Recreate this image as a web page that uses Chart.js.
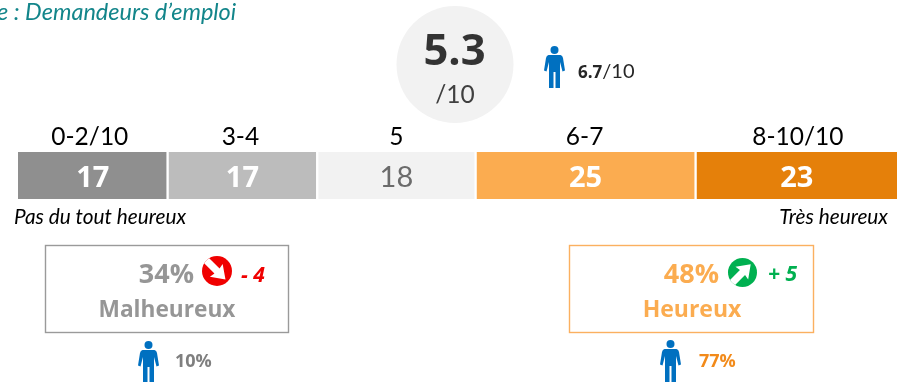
<!DOCTYPE html>
<html lang="fr"><head><meta charset="utf-8">
<style>html,body{margin:0;padding:0;background:#fff;overflow:hidden}#w{position:relative;width:897px;height:382px;overflow:hidden}</style>
<script src="https://cdn.jsdelivr.net/npm/chart.js@4"></script>
</head><body><div id="w"><canvas id="c" width="898" height="382"></canvas></div>
<script>
const categories = ['0-2/10','3-4','5','6-7','8-10/10'];
const seriesValues = [17,17,18,25,23];
const seriesColors = ['#8f8f8f','#bcbcbc','#f2f2f2','#fbac50','#e5800a'];
const valueColors = ['#ffffff','#ffffff','#6b6b6b','#ffffff','#ffffff'];
const score = '5.3', scoreUnit = '/10', refScore = '6.7';
const unhappy = {pct:'34%', label:'Malheureux', delta:'- 4', ref:'10%'};
const happy = {pct:'48%', label:'Heureux', delta:'+ 5', ref:'77%'};

const BOLD = '"Open Sans"', REG = 'Lato';
function text(ctx, s, x, y, font, color, align){
  ctx.font = font; ctx.fillStyle = color; ctx.textAlign = align || 'center';
  ctx.textBaseline = 'alphabetic'; ctx.fillText(s, x, y);
}
function person(ctx, cx, top, h){
  const s = h/42;
  ctx.save(); ctx.translate(cx, top); ctx.scale(s, s);
  ctx.fillStyle = '#0070c0';
  ctx.beginPath(); ctx.arc(0, 4, 4, 0, 2*Math.PI); ctx.fill();
  ctx.beginPath();
  ctx.moveTo(-6, 9); ctx.lineTo(6, 9);
  ctx.quadraticCurveTo(8, 9.5, 8.5, 12);
  ctx.lineTo(10.5, 24.5); ctx.lineTo(8, 25.5); ctx.lineTo(5.5, 16);
  ctx.lineTo(5.5, 42); ctx.lineTo(1, 42); ctx.lineTo(1, 26); ctx.lineTo(-1, 26);
  ctx.lineTo(-1, 42); ctx.lineTo(-5.5, 42); ctx.lineTo(-5.5, 16);
  ctx.lineTo(-8, 25.5); ctx.lineTo(-10.5, 24.5); ctx.lineTo(-8.5, 12);
  ctx.quadraticCurveTo(-8, 9.5, -6, 9);
  ctx.closePath(); ctx.fill();
  ctx.restore();
}
function arrowBadge(ctx, cx, cy, r, color, angle){
  ctx.fillStyle = color;
  ctx.beginPath(); ctx.arc(cx, cy, r, 0, 2*Math.PI); ctx.fill();
  ctx.save();
  ctx.beginPath(); ctx.arc(cx, cy, r, 0, 2*Math.PI); ctx.clip();
  ctx.translate(cx, cy); ctx.rotate(angle);
  ctx.fillStyle = '#fff';
  ctx.beginPath();
  ctx.moveTo(-r-1, -3.6); ctx.lineTo(0, -3.6); ctx.lineTo(-1, -9);
  ctx.lineTo(r*0.8, 0); ctx.lineTo(-1, 9); ctx.lineTo(0, 3.6);
  ctx.lineTo(-r-1, 3.6); ctx.closePath(); ctx.fill();
  ctx.restore();
}
const labelNudge = [-3,-2,0,-1,1];
const overlay = {
  id:'overlay',
  afterDatasetsDraw(chart){
    const ctx = chart.ctx, x = chart.scales.x;
    ctx.save();
    let cum = 0;
    seriesValues.forEach((v,i)=>{
      const mid = x.getPixelForValue(cum + v/2);
      cum += v;
      text(ctx, categories[i], mid + labelNudge[i], 145, '24.5px '+REG, '#000');
      text(ctx, String(v), mid, 187, (i===2?'400 ':'700 ')+'29px '+(i===2?REG:BOLD), valueColors[i]);
    });
    text(ctx, 'e : Demandeurs d’emploi', -3, 20, 'italic 23.5px '+REG, '#12858a', 'left');
    ctx.fillStyle = '#f2f2f2';
    ctx.beginPath(); ctx.arc(455, 64.5, 58.5, 0, 2*Math.PI); ctx.fill();
    text(ctx, score, 454.5, 65, '700 43.5px '+BOLD, '#333');
    text(ctx, scoreUnit, 455, 103, '24.5px '+REG, '#404040');
    person(ctx, 554.5, 46, 42);
    text(ctx, refScore, 578, 78, '700 17px '+BOLD, '#262626', 'left');
    const w = ctx.measureText(refScore).width;
    text(ctx, '/10', 578 + w, 78, '20px '+REG, '#262626', 'left');
    text(ctx, 'Pas du tout heureux', 14, 224, 'italic 20.8px '+REG, '#000', 'left');
    text(ctx, 'Très heureux', 888, 224, 'italic 20.8px '+REG, '#000', 'right');
    ctx.lineWidth = 1.4;
    ctx.strokeStyle = '#9a9a9a'; ctx.strokeRect(45.5, 245.5, 243, 87);
    text(ctx, unhappy.pct, 194, 283, '700 27px '+BOLD, '#969696', 'right');
    arrowBadge(ctx, 217, 271, 15, '#f00000', Math.PI/4);
    text(ctx, unhappy.delta, 241, 282, 'italic 700 21px '+BOLD, '#f00000', 'left');
    text(ctx, unhappy.label, 167, 317, '700 22.7px '+BOLD, '#969696');
    person(ctx, 148.5, 341, 42);
    text(ctx, unhappy.ref, 175, 367, '700 18px '+BOLD, '#7f7f7f', 'left');
    ctx.strokeStyle = '#fbb060'; ctx.strokeRect(569.5, 245.5, 244, 87);
    text(ctx, happy.pct, 719, 283, '700 27px '+BOLD, '#fbac50', 'right');
    arrowBadge(ctx, 742.5, 272.5, 14.5, '#00b050', -Math.PI/4);
    text(ctx, happy.delta, 768, 281, 'italic 700 21px '+BOLD, '#00b050', 'left');
    text(ctx, happy.label, 692, 317, '700 23px '+BOLD, '#fbac50');
    person(ctx, 670.5, 340, 42);
    text(ctx, happy.ref, 699, 367, '700 18px '+BOLD, '#f28a1a', 'left');
    ctx.restore();
  }
};
new Chart(document.getElementById('c'), {
  type:'bar',
  data:{
    labels:['Bonheur'],
    datasets: seriesValues.map((v,i)=>({
      label:categories[i], data:[v], backgroundColor:seriesColors[i],
      borderColor:'#ffffff', borderSkipped:false,
      borderWidth:{left:i>0?1.5:0,right:i<4?1.5:0,top:0,bottom:0},
      barPercentage:1, categoryPercentage:1
    }))
  },
  options:{
    indexAxis:'y', responsive:false, animation:false,
    layout:{padding:{left:18,right:0,top:152,bottom:183}},
    plugins:{legend:{display:false},tooltip:{enabled:false},title:{display:false}},
    scales:{
      x:{display:false,stacked:true,min:0,max:100},
      y:{display:false,stacked:true}
    }
  },
  plugins:[overlay]
});
</script></body></html>
